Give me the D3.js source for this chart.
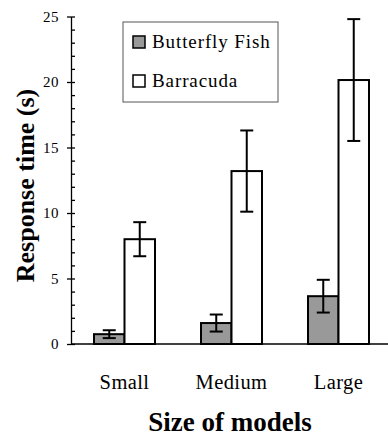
<!DOCTYPE html>
<html>
<head>
<meta charset="utf-8">
<script src="https://cdn.jsdelivr.net/npm/d3@7"></script>
<style>
	body { margin: 0; background: #fff; }
	svg text { font-family: "Liberation Serif", "Times New Roman", Times, serif; fill: #000; }
	.axis path, .axis line { stroke: #000; stroke-width: 1.3; }
	.axis text { font-size: 15px; letter-spacing: 0.5px; font-family: "Liberation Serif", serif; }
	.xaxis text { font-size: 20.5px; letter-spacing: 0.4px; }
	.title { font-size: 26px; font-weight: bold; }
	.legend text { font-size: 19px; letter-spacing: 0.9px; }
</style>
</head>
<body>
<div id="chart"></div>
<script>
const categories   = ["Small", "Medium", "Large"]
	, seriesNames  = ["Butterfly Fish", "Barracuda"]
	, butterfly    = [0.75, 1.6, 3.65]
	, butterflyErr = [0.3, 0.65, 1.25]
	, barracuda    = [8.0, 13.2, 20.15]
	, barracudaErr = [1.3, 3.1, 4.65]
	, yTicks       = [0, 5, 10, 15, 20, 25]
	, fills        = ["#999999", "#ffffff"];

const width  = 388
	, height = 436
	, x0     = 71
	, yBase  = 344
	, yTop   = 16.5;

const svg = d3.select("#chart")
	.append("svg")
		.attr("width", width)
		.attr("height", height);

// scales
const x = d3.scaleBand()
	.domain(categories)
	.range([x0, x0 + 321])
	.paddingInner(0.43)
	.paddingOuter(0.215);
const xs = d3.scaleBand()
	.domain(seriesNames)
	.range([0, x.bandwidth()]);
const y = d3.scaleLinear()
	.domain([0, 25])
	.range([yBase, yTop]);

// y axis: major ticks crossing, minor ticks inside
svg.append("g")
	.attr("class", "axis")
	.attr("transform", "translate(" + x0 + ",0)")
	.call(d3.axisRight(y).tickValues(d3.range(0, 26, 1)).tickSize(4).tickFormat(""))
	.call(g => g.select(".domain").remove());
svg.append("g")
	.attr("class", "axis")
	.attr("transform", "translate(" + x0 + ",0)")
	.call(d3.axisLeft(y).tickValues(yTicks).tickSize(4).tickSizeOuter(0).tickPadding(8));

// x axis baseline + labels
svg.append("line")
	.attr("x1", x0).attr("x2", width)
	.attr("y1", yBase).attr("y2", yBase)
	.attr("stroke", "#000").attr("stroke-width", 1.3);
svg.append("g")
	.attr("class", "axis xaxis")
	.attr("transform", "translate(0," + yBase + ")")
	.call(d3.axisBottom(x).tickSize(0).tickPadding(30))
	.call(g => g.select(".domain").remove());

// bars
const rows = categories.map((c, i) => [
	{ cat: c, s: seriesNames[0], v: butterfly[i], e: butterflyErr[i], f: fills[0] },
	{ cat: c, s: seriesNames[1], v: barracuda[i], e: barracudaErr[i], f: fills[1] }
]).flat();

svg.selectAll("rect.bar")
	.data(rows)
	.join("rect")
		.attr("class", "bar")
		.attr("x", d => x(d.cat) + xs(d.s))
		.attr("y", d => y(d.v))
		.attr("width", xs.bandwidth())
		.attr("height", d => yBase - y(d.v))
		.attr("fill", d => d.f)
		.attr("stroke", "#000")
		.attr("stroke-width", 2);

// error bars
const cap = 6.5;
const err = svg.selectAll("g.err")
	.data(rows)
	.join("g")
		.attr("class", "err")
		.attr("stroke", "#000")
		.attr("stroke-width", 2)
		.attr("transform", d => "translate(" + (x(d.cat) + xs(d.s) + xs.bandwidth() / 2) + ",0)");
err.append("line")
	.attr("y1", d => y(d.v - d.e))
	.attr("y2", d => y(d.v + d.e));
err.append("line")
	.attr("x1", -cap).attr("x2", cap)
	.attr("y1", d => y(d.v + d.e)).attr("y2", d => y(d.v + d.e));
err.append("line")
	.attr("x1", -cap).attr("x2", cap)
	.attr("y1", d => y(d.v - d.e)).attr("y2", d => y(d.v - d.e));

// legend
const legend = svg.append("g")
	.attr("class", "legend")
	.attr("transform", "translate(123,22)");
legend.append("rect")
	.attr("width", 155).attr("height", 80)
	.attr("fill", "#fff")
	.attr("stroke", "#555").attr("stroke-width", 1);
const item = legend.selectAll("g.item")
	.data(seriesNames)
	.join("g")
		.attr("class", "item")
		.attr("transform", (d, i) => "translate(10," + (14 + i * 39) + ")");
item.append("rect")
	.attr("width", 12).attr("height", 12)
	.attr("fill", (d, i) => fills[i])
	.attr("stroke", "#000").attr("stroke-width", 1.5);
item.append("text")
	.attr("x", 19).attr("y", 11.5)
	.text(d => d);

// axis titles
svg.append("text")
	.attr("class", "title")
	.attr("text-anchor", "middle")
	.style("font-size", "27px")
	.attr("x", 230).attr("y", 431)
	.text("Size of models");
svg.append("text")
	.attr("class", "title")
	.attr("text-anchor", "middle")
	.attr("transform", "translate(34,185.5) rotate(-90)")
	.text("Response time (s)");
</script>
</body>
</html>
